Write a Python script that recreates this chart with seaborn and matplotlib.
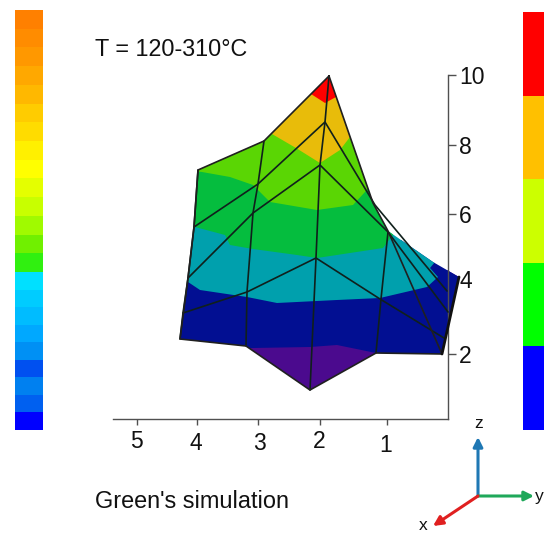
import matplotlib
matplotlib.use("Agg")
import matplotlib.pyplot as plt
from matplotlib.colors import ListedColormap
from matplotlib.patches import Polygon
import numpy as np
import seaborn as sns

sns.set_theme(style="white")
plt.rcParams['font.family'] = ['Liberation Sans', 'DejaVu Sans']

W, H = 544, 535

title_text = "T = 120-310°C"
note_text = "Green's simulation"
z_labels = ["10", "8", "6", "4", "2"]
z_pos = [75, 145, 214, 279, 354]
xy_labels = ["5", "4", "3", "2", "1"]
xy_ticks = [137, 197, 258, 320, 387]
xy_label_x = [136, 196, 259, 319, 386]
xy_label_y = [442, 443, 444, 442, 445]

strip_upper = ["#ff8000", "#ff8c00", "#ff9800", "#ffa800", "#ffb800", "#ffcc00", "#ffdc00",
               "#fff000", "#ffff00", "#e4ff00", "#c8ff00", "#a0fa00", "#70f000", "#30f010"]
strip_lower = ["#00e0ff", "#00ccff", "#00bcff", "#00a8ff", "#0090f4", "#0050f0",
               "#0080f0", "#0060f0", "#0000ff"]
strip_right = ["#ff0000", "#ffc000", "#ccff00", "#00ff00", "#0000ff"]

outline = [(329, 76), (373, 203), (388, 231), (433, 262), (459, 277), (442, 354), (376, 353),
           (310, 390), (246, 346), (180, 339), (188, 278), (194, 227), (198, 170), (264, 141)]

band_colors = ["#4b0a8e", "#020f92", "#00a0ad", "#05bd3e", "#5ad604", "#e8bc0a", "#ff0000"]
band_tops = [
    [(170, 400), (470, 400), (470, 270), (170, 270)],
    [(170, 349), (253, 348), (310, 347), (337, 345), (376, 353), (470, 360), (470, 240), (170, 240)],
    [(170, 278), (188, 282), (200, 290), (247, 297), (277, 303), (337, 300), (380, 298), (427, 287),
     (438, 277), (430, 268), (435, 262), (435, 200), (170, 200)],
    [(170, 222), (195, 227), (225, 235), (230, 245), (253, 249), (297, 255), (317, 258), (383, 248),
     (393, 235), (393, 120), (170, 120)],
    [(170, 168), (202, 172), (230, 177), (253, 185), (270, 202), (317, 210), (353, 205), (365, 192),
     (400, 150), (400, 60), (170, 60)],
    [(260, 125), (272, 134), (296, 148), (320, 163), (340, 150), (350, 137), (370, 100), (370, 60), (260, 60)],
    [(300, 85), (311, 94), (325, 103), (336, 97), (345, 85), (345, 60), (300, 60)],
]

mesh_lines = [
    [(194, 227), (258, 184), (325, 122), (375, 205), (447, 291)],
    [(188, 278), (253, 213), (320, 165), (388, 232), (448, 312)],
    [(183, 313), (247, 292), (316, 258), (380, 299), (444, 338)],
    [(264, 141), (258, 184), (253, 213), (247, 292), (246, 346)],
    [(329, 76), (325, 122), (320, 165), (316, 258), (310, 390)],
    [(388, 232), (381, 299), (376, 353)],
    [(198, 170), (194, 227), (188, 278), (183, 313), (180, 339)],
]
edge_line = outline[:3] + outline[5:] + outline[:1]
right_edge = [(459, 277), (442, 354)]
triad_origin = (478, 496)
triad_tips = {"z": (478, 437), "y": (534, 496), "x": (433, 526)}
triad_colors = {"z": "#1f78b4", "y": "#1fa85a", "x": "#e02020"}
triad_label_pos = {"z": (479, 424), "y": (539, 496), "x": (423, 526)}

fig = plt.figure(figsize=(W / 100, H / 100), dpi=100)


def pix_axes(x0, y0, x1, y1):
    return fig.add_axes([x0 / W, 1 - y1 / H, (x1 - x0) / W, (y1 - y0) / H])


def strip(colors, x0, y0, x1, y1):
    a = pix_axes(x0, y0, x1, y1)
    values = np.arange(len(colors)).reshape(-1, 1)
    sns.heatmap(values, ax=a, cmap=ListedColormap(colors), cbar=False,
                xticklabels=False, yticklabels=False, linewidths=0)
    return a


strip(strip_upper, 15, 10, 43, 272)
strip(strip_lower, 15, 272, 43, 430)
strip(strip_right, 523, 12, 544, 430)

ax = pix_axes(0, 0, W, H)
ax.set_xlim(0, W)
ax.set_ylim(H, 0)
ax.patch.set_alpha(0)

clip = Polygon(outline, closed=True, transform=ax.transData, fc="none", ec="none")
ax.add_patch(clip)
for colour, poly in zip(band_colors, band_tops):
    p = Polygon(poly, closed=True, fc=colour, ec="none", zorder=2)
    ax.add_patch(p)
    p.set_clip_path(clip)

for line in mesh_lines:
    xs, ys = zip(*line)
    ax.plot(xs, ys, color="#10201c", lw=1.2, zorder=3, solid_joinstyle="round")
xs, ys = zip(*edge_line)
ax.plot(xs, ys, color="#202020", lw=1.2, zorder=3)
xs, ys = zip(*right_edge)
ax.plot(xs, ys, color="#101010", lw=2.0, zorder=3)

for s in ("left", "top"):
    ax.spines[s].set_visible(False)
ax.spines["right"].set_position(("data", 448))
ax.spines["right"].set_bounds(419, 75)
ax.spines["bottom"].set_position(("data", 419))
ax.spines["bottom"].set_bounds(113, 448)
for s in ("right", "bottom"):
    ax.spines[s].set_color("#505050")
    ax.spines[s].set_linewidth(1.0)

ax.yaxis.tick_right()
ax.set_yticks(z_pos, z_labels)
ax.set_xticks(xy_ticks, [""] * len(xy_ticks))
ax.tick_params(axis="y", length=6, width=1, color="#505050", direction="out", pad=2, labelsize=16.5,
               right=True, left=False, labelcolor="#111111")
ax.tick_params(axis="x", length=4.5, width=1, color="#505050", direction="out", bottom=True)

for lab, lx, ly in zip(xy_labels, xy_label_x, xy_label_y):
    ax.text(lx, ly, lab, fontsize=16.5, ha="center", va="center", color="#111111")

ax.text(95, 50, title_text, fontsize=16.8, ha="left", va="center", color="#111111")
ax.text(95, 501, note_text, fontsize=16.9, ha="left", va="center", color="#111111")

for k, tip in triad_tips.items():
    ax.annotate("", xy=tip, xytext=triad_origin, zorder=4,
                arrowprops=dict(arrowstyle="-|>", color=triad_colors[k], lw=2.2,
                                mutation_scale=14, shrinkA=0, shrinkB=0))
    lx, ly = triad_label_pos[k]
    ax.text(lx, ly, k, fontsize=12.5, ha="center", va="center", color="#111111", clip_on=False)

fig.savefig("out.png", dpi=100, facecolor="white")
